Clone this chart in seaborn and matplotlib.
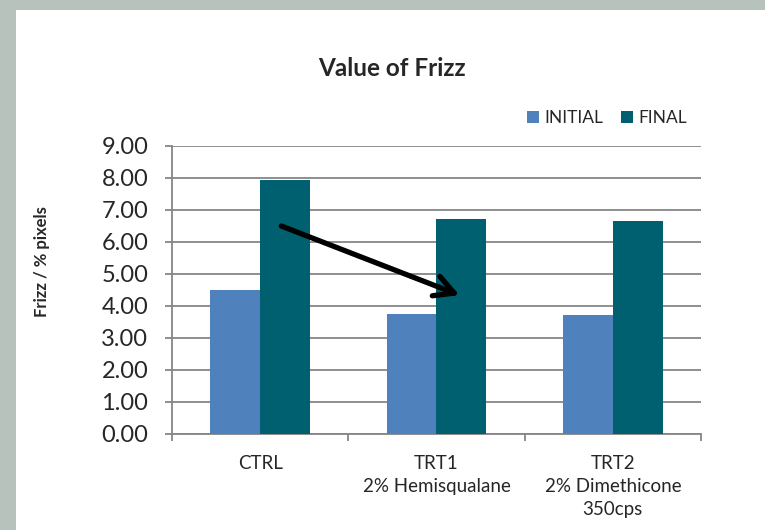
import matplotlib
matplotlib.use("Agg")
import matplotlib.pyplot as plt
import pandas as pd
import seaborn as sns
from matplotlib.patches import Rectangle

categories = ["CTRL", "TRT1\n2% Hemisqualane", "TRT2\n2% Dimethicone\n350cps"]
initial = [4.50, 3.75, 3.72]
final = [7.93, 6.72, 6.65]
series = ["INITIAL", "FINAL"]
colors = ["#4F81BD", "#01606F"]
yticks = [0, 1, 2, 3, 4, 5, 6, 7, 8, 9]

df = pd.DataFrame({
    "category": categories * 2,
    "series": [series[0]] * 3 + [series[1]] * 3,
    "value": initial + final,
})

sns.set_style("white")
plt.rcParams["font.family"] = ["Lato", "DejaVu Sans"]

fig = plt.figure(figsize=(7.65, 5.3), dpi=100)
fig.patch.set_facecolor("#B8C2BD")
fig.patches.append(Rectangle((16 / 765, 0), 1, 1 - 10 / 530, transform=fig.transFigure,
                             facecolor="white", edgecolor="none", zorder=-10))

ax = fig.add_axes([172 / 765, 96 / 530, 529 / 765, 288 / 530])
ax.patch.set_alpha(0)
sns.barplot(data=df, x="category", y="value", hue="series", palette=colors,
            width=0.567, saturation=1, linewidth=0, edgecolor="none", ax=ax, zorder=3)
ax.set_ylim(0, 9)
ax.set_xlim(-0.5, 2.5)

# gridlines and spines
ax.yaxis.grid(True, color="#868686", linewidth=1.3, zorder=0)
ax.set_axisbelow(True)
for side in ["top", "right"]:
    ax.spines[side].set_visible(False)
for side in ["left", "bottom"]:
    ax.spines[side].set_color("#868686")
    ax.spines[side].set_linewidth(1.3)
ax.set_yticks(yticks)
ax.set_yticklabels([f"{v:.2f}" for v in yticks])
for lab in ax.get_yticklabels():
    lab.set_fontsize(17)
ax.tick_params(axis="y", which="major", left=True, length=5, width=1.3,
               color="#868686", pad=12)

# category ticks at boundaries, labels at centers
ax.set_xticks([-0.5, 0.5, 1.5, 2.5])
ax.set_xticklabels([])
ax.set_xticks([0, 1, 2], minor=True)
ax.set_xticklabels(categories, minor=True)
for lab in ax.get_xticklabels(minor=True):
    lab.set_fontsize(13.5)
    lab.set_linespacing(1.45)
    lab.set_verticalalignment("top")
ax.tick_params(axis="x", which="major", bottom=True, length=5, width=1.3, color="#868686")
ax.tick_params(axis="x", which="minor", bottom=False, length=0, pad=15)

ax.set_xlabel("")
ax.set_ylabel("")
fig.text(42 / 765, 1 - 262 / 530, "Frizz / % pixels", rotation=90, fontsize=12,
         fontweight="bold", ha="center", va="center")

fig.text(392 / 765, 1 - 68 / 530, "Value of Frizz", fontsize=17.5, fontweight="bold",
         ha="center", va="center")

# legend
handles, labels = ax.get_legend_handles_labels()
ax.get_legend().remove()
fig.legend(handles, labels, loc="center", bbox_to_anchor=(607 / 765, 1 - 118 / 530),
           ncol=2, frameon=False, fontsize=12.5, handlelength=0.7, handleheight=0.7,
           handletextpad=0.3, columnspacing=1.0)

# arrow
ax.annotate("", xy=(1.13, 4.34), xytext=(0.12, 6.5),
            arrowprops=dict(arrowstyle="->,head_length=1.4,head_width=0.75",
                            color="black", lw=3.8, shrinkA=0, shrinkB=0),
            zorder=5)

fig.savefig("out.png", dpi=100, facecolor=fig.get_facecolor())
